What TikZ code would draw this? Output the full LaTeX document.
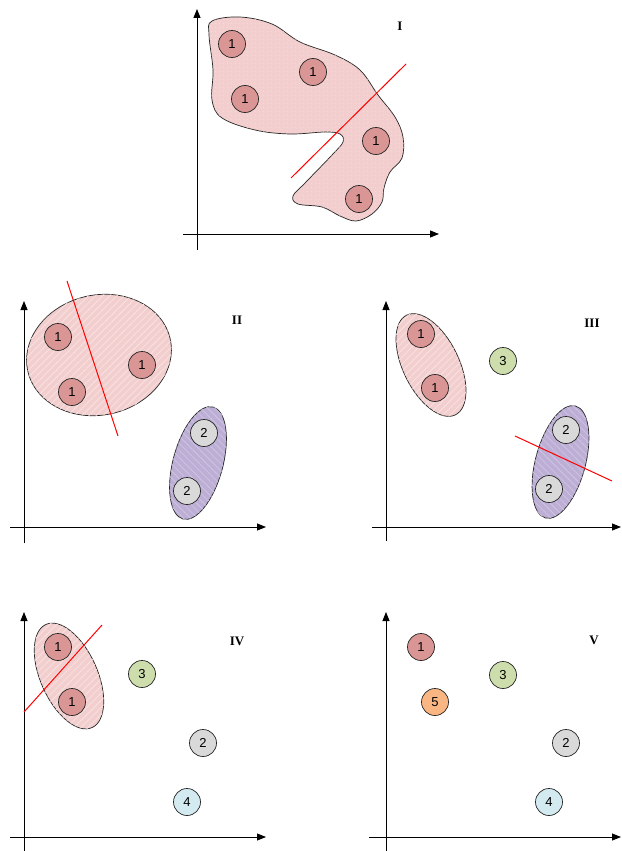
\documentclass[tikz,border=0pt]{standalone}
\usepackage{fontspec}
\setmainfont{Liberation Serif}
\newfontfamily\digitfont{Liberation Sans}
\usetikzlibrary{arrows.meta,patterns.meta}
\definecolor{pinkfill}{RGB}{242,207,206}
\definecolor{pinkpat}{RGB}{248,226,225}
\definecolor{purplefill}{RGB}{188,174,212}
\definecolor{purplepat}{RGB}{206,196,225}
\definecolor{cone}{RGB}{217,150,148}
\definecolor{ctwo}{RGB}{217,217,217}
\definecolor{cthree}{RGB}{205,222,172}
\definecolor{cfour}{RGB}{210,234,240}
\definecolor{cfive}{RGB}{250,182,130}
\tikzset{
  axis/.style={line width=0.8pt, -{Triangle[length=9pt,width=7pt]}},
  pt/.style={circle, draw=black!85, line width=0.7pt, minimum size=27pt, inner sep=0pt, font=\digitfont\fontsize{13}{13}\selectfont},
  cA/.style={pt, fill=cone},
  cB/.style={pt, fill=ctwo},
  cC/.style={pt, fill=cthree},
  cD/.style={pt, fill=cfour},
  cE/.style={pt, fill=cfive},
  cut/.style={red, line width=1pt},
  lbl/.style={font=\bfseries\fontsize{13}{13}\selectfont},
  pinkreg/.style={draw=black!85, line width=0.7pt, fill=pinkfill, postaction={pattern={Lines[angle=45,distance=5pt,line width=0.8pt]}, pattern color=pinkpat}},
  purplereg/.style={draw=black!85, line width=0.7pt, fill=purplefill, postaction={pattern={Lines[angle=-45,distance=5pt,line width=0.8pt]}, pattern color=purplepat}},
  blobreg/.style={draw=black!85, line width=0.7pt, fill=pinkfill, postaction={pattern={Dots[distance=4pt,radius=0.5pt]}, pattern color=pinkpat}}
}
\begin{document}
\begin{tikzpicture}[x=1pt,y=-1pt]
\useasboundingbox (0,0) rectangle (621,851);

% ---------- Panel I ----------
\coordinate (Ivb) at (197,250); \coordinate (Ivt) at (197,9);
\coordinate (Ihl) at (183,234); \coordinate (Ihr) at (439,234);
\draw[blobreg] plot[smooth cycle, tension=0.6] coordinates {
 (212,21) (240,17) (272,24) (300,42) (335,55) (360,70) (378,95) (395,117)
 (403,137) (402,158) (390,172) (384,188) (382,202) (372,214) (356,221)
 (340,216) (322,207) (298,204) (293,196) (305,183) (332,155) (343,142)
 (340,134) (325,132) (290,134) (255,130) (222,118) (212,100) (213,70) (209,35)};
\draw[axis] (Ivb) -- (Ivt);
\draw[axis] (Ihl) -- (Ihr);
\node[cA] (Ia) at (232,44) {1};
\node[cA] (Ib) at (313,72) {1};
\node[cA] (Ic) at (245,99) {1};
\node[cA] (Id) at (376,141) {1};
\node[cA] (Ie) at (359,199) {1};
\coordinate (Icut1) at (291,178); \coordinate (Icut2) at (406,64);
\draw[cut] (Icut1) -- (Icut2);
\node[lbl] (Il) at (400,26) {I};

% ---------- Panel II ----------
\coordinate (IIvb) at (24,543); \coordinate (IIvt) at (24,301);
\coordinate (IIhl) at (10,527); \coordinate (IIhr) at (266,527);
\draw[pinkreg, rotate around={13:(99,355)}] (99,355) ellipse [x radius=73pt, y radius=60pt];
\draw[purplereg, rotate around={-15:(198,463)}] (198,463) ellipse [x radius=25pt, y radius=58pt];
\draw[axis] (IIvb) -- (IIvt);
\draw[axis] (IIhl) -- (IIhr);
\node[cA] (IIa) at (58,337) {1};
\node[cA] (IIb) at (142,365) {1};
\node[cA] (IIc) at (72,392) {1};
\node[cB] (IId) at (204,433) {2};
\node[cB] (IIe) at (187,491) {2};
\coordinate (IIcut1) at (67,281); \coordinate (IIcut2) at (118,436);
\draw[cut] (IIcut1) -- (IIcut2);
\node[lbl] (IIl) at (237,320) {II};

% ---------- Panel III ----------
\coordinate (IIIvb) at (386,541); \coordinate (IIIvt) at (386,301);
\coordinate (IIIhl) at (372,527); \coordinate (IIIhr) at (621,527);
\draw[pinkreg, rotate around={26:(431,365)}] (431,365) ellipse [x radius=28pt, y radius=55.5pt];
\draw[purplereg, rotate around={-15:(560.5,462)}] (560.5,462) ellipse [x radius=25pt, y radius=58pt];
\draw[axis] (IIIvb) -- (IIIvt);
\draw[axis] (IIIhl) -- (IIIhr);
\node[cA] (IIIa) at (421,334) {1};
\node[cA] (IIIb) at (435,388) {1};
\node[cC] (IIIc) at (503,361) {3};
\node[cB] (IIId) at (566,430) {2};
\node[cB] (IIIe) at (549,489) {2};
\coordinate (IIIcut1) at (515,436); \coordinate (IIIcut2) at (612,481);
\draw[cut] (IIIcut1) -- (IIIcut2);
\node[lbl] (IIIl) at (592,323) {III};

% ---------- Panel IV ----------
\coordinate (IVvb) at (24,851); \coordinate (IVvt) at (24,612);
\coordinate (IVhl) at (10,837); \coordinate (IVhr) at (266,837);
\draw[pinkreg, rotate around={24:(69,676)}] (69,676) ellipse [x radius=28.5pt, y radius=56.5pt];
\draw[axis] (IVvb) -- (IVvt);
\draw[axis] (IVhl) -- (IVhr);
\node[cA] (IVa) at (58,647) {1};
\node[cA] (IVb) at (72,702) {1};
\node[cC] (IVc) at (142,674) {3};
\node[cB] (IVd) at (203,743) {2};
\node[cD] (IVe) at (187,802) {4};
\coordinate (IVcut1) at (24,712); \coordinate (IVcut2) at (102,625);
\draw[cut] (IVcut1) -- (IVcut2);
\node[lbl] (IVl) at (237,641) {IV};

% ---------- Panel V ----------
\coordinate (Vvb) at (386,851); \coordinate (Vvt) at (386,612);
\coordinate (Vhl) at (369,837); \coordinate (Vhr) at (621,837);
\draw[axis] (Vvb) -- (Vvt);
\draw[axis] (Vhl) -- (Vhr);
\node[cA] (Va) at (421,647) {1};
\node[cC] (Vb) at (503,675) {3};
\node[cE] (Vc) at (435,702) {5};
\node[cB] (Vd) at (566,743) {2};
\node[cD] (Ve) at (549,802) {4};
\node[lbl] (Vl) at (594,640) {V};
\end{tikzpicture}
\end{document}
